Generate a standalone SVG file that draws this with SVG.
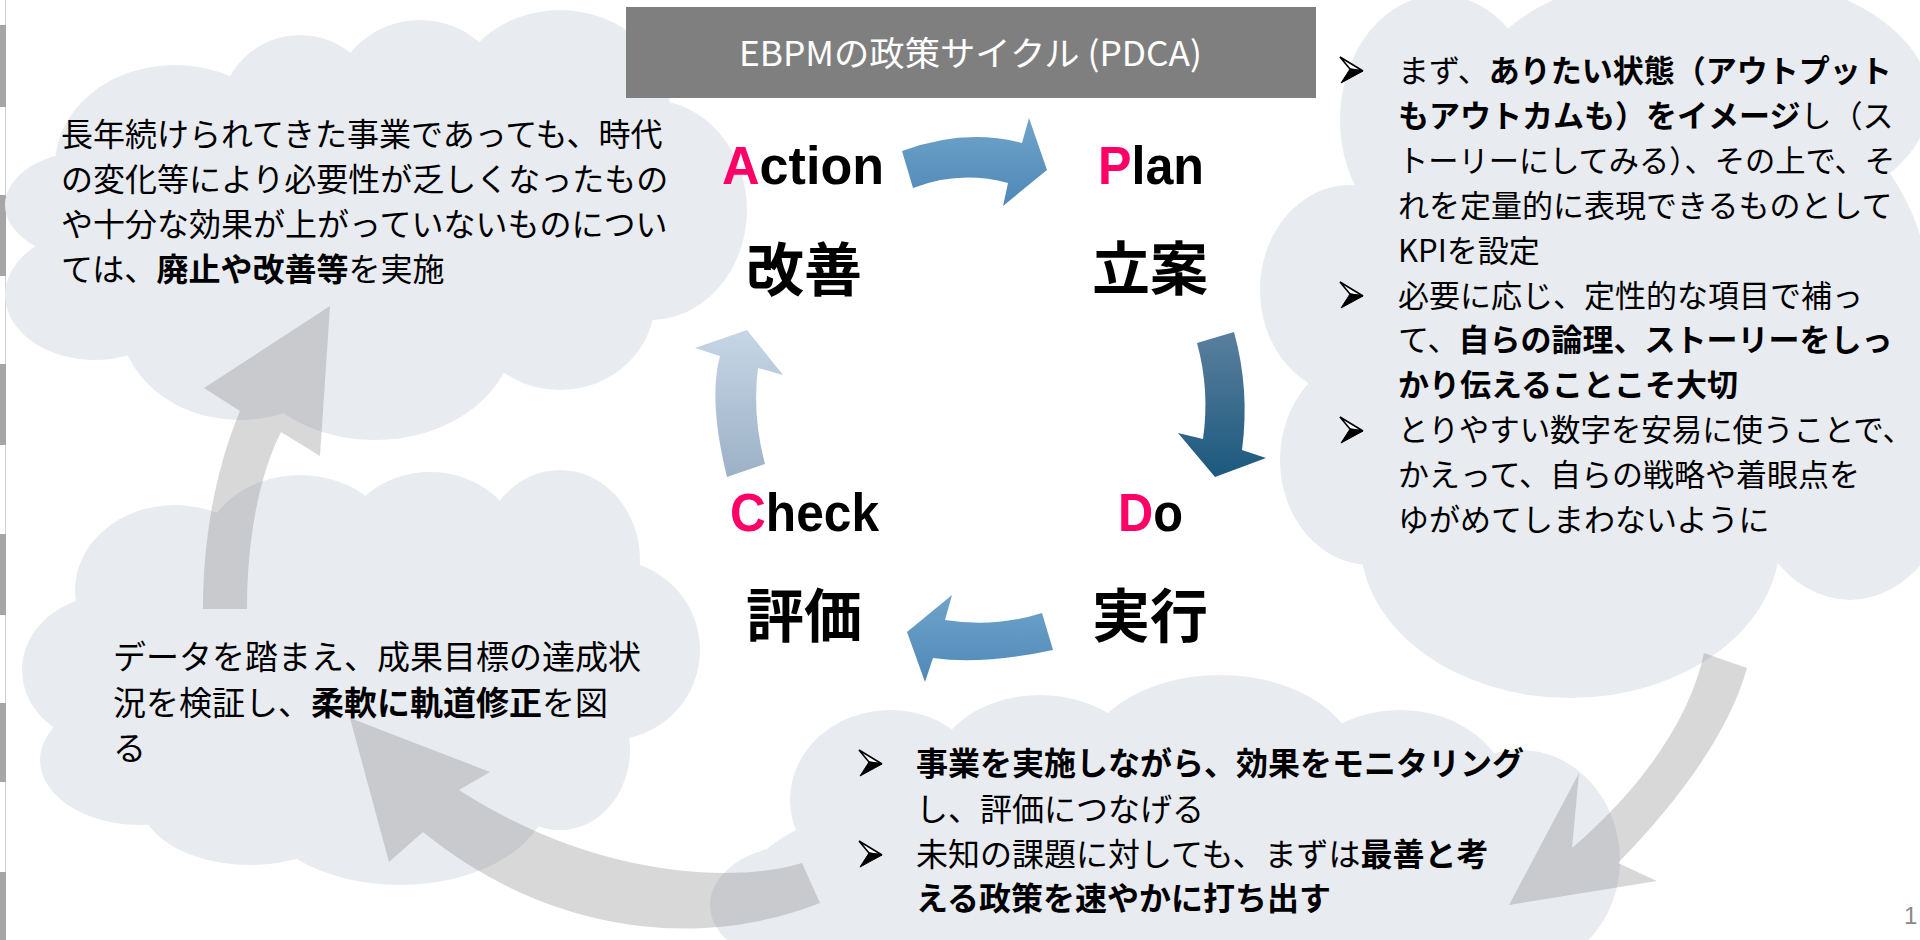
<svg xmlns="http://www.w3.org/2000/svg" width="1920" height="940" viewBox="0 0 1920 940">
<defs>
<style>
.cloud{fill:#e8ebf0}
.garrow{fill:#7f7f7f;fill-opacity:0.3}
.t{font-family:'Noto Sans CJK JP','Noto Sans CJK SC',sans-serif;fill:#000}
.b{font-weight:700}
.lat{font-family:'Liberation Sans','Noto Sans CJK JP',sans-serif;font-weight:700;font-size:53px;fill:#000}
.pk{fill:#ff0066}
.kj{font-family:'Noto Sans CJK JP',sans-serif;font-weight:700;font-size:58px;fill:#000}
</style>
<g id="bul">
<path d="M0,0 L23,14 L10,12 Z" fill="#ffffff" stroke="#000000" stroke-width="1.6" stroke-linejoin="miter"/>
<path d="M10,12 L23,14 L1,26 Z" fill="#000000" stroke="#000000" stroke-width="1"/>
</g>
<linearGradient id="gBlue" x1="0" y1="0" x2="0" y2="1"><stop offset="0" stop-color="#6fa4ca"/><stop offset="1" stop-color="#4f88b7"/></linearGradient>
<linearGradient id="gDark" x1="0" y1="0" x2="0" y2="1"><stop offset="0" stop-color="#5a7f9d"/><stop offset="1" stop-color="#1c597e"/></linearGradient>
<linearGradient id="gLight" x1="0" y1="0" x2="0" y2="1"><stop offset="0" stop-color="#c6d6e5"/><stop offset="1" stop-color="#9cb1c7"/></linearGradient>
</defs>
<rect width="1920" height="940" fill="#ffffff"/>
<g id="edge">
<rect x="5" y="0" width="1" height="940" fill="#d0d0d0"/>
<rect x="0" y="25" width="6" height="82" fill="#a6a6a6"/>
<rect x="0" y="195" width="6" height="81" fill="#a6a6a6"/>
<rect x="0" y="364" width="6" height="81" fill="#a6a6a6"/>
<rect x="0" y="534" width="6" height="81" fill="#a6a6a6"/>
<rect x="0" y="703" width="6" height="79" fill="#a6a6a6"/>
<rect x="0" y="872" width="6" height="68" fill="#a6a6a6"/>
</g>
<g id="cloud-action" class="cloud">
<ellipse cx="95" cy="295" rx="90" ry="65"/>
<ellipse cx="95" cy="205" rx="90" ry="55"/>
<ellipse cx="175" cy="165" rx="120" ry="100"/>
<ellipse cx="300" cy="115" rx="80" ry="80"/>
<ellipse cx="420" cy="110" rx="90" ry="90"/>
<ellipse cx="560" cy="110" rx="110" ry="100"/>
<ellipse cx="650" cy="210" rx="97" ry="110"/>
<ellipse cx="560" cy="300" rx="95" ry="90"/>
<ellipse cx="375" cy="330" rx="140" ry="110"/>
<ellipse cx="240" cy="320" rx="120" ry="100"/>
<ellipse cx="400" cy="220" rx="300" ry="150"/>
</g>
<g id="cloud-check" class="cloud">
<ellipse cx="110" cy="670" rx="88" ry="75"/>
<ellipse cx="140" cy="760" rx="100" ry="65"/>
<ellipse cx="175" cy="590" rx="100" ry="85"/>
<ellipse cx="300" cy="560" rx="100" ry="85"/>
<ellipse cx="430" cy="550" rx="90" ry="78"/>
<ellipse cx="560" cy="560" rx="80" ry="90"/>
<ellipse cx="610" cy="650" rx="90" ry="90"/>
<ellipse cx="560" cy="750" rx="70" ry="80"/>
<ellipse cx="400" cy="790" rx="150" ry="95"/>
<ellipse cx="250" cy="800" rx="110" ry="65"/>
<ellipse cx="370" cy="680" rx="280" ry="150"/>
</g>
<g id="cloud-plan" class="cloud">
<ellipse cx="1440" cy="120" rx="100" ry="125"/>
<ellipse cx="1700" cy="100" rx="230" ry="130"/>
<ellipse cx="1350" cy="290" rx="90" ry="105"/>
<ellipse cx="1370" cy="460" rx="90" ry="105"/>
<ellipse cx="1570" cy="540" rx="210" ry="158"/>
<ellipse cx="1850" cy="450" rx="110" ry="150"/>
<ellipse cx="1640" cy="300" rx="290" ry="250"/>
</g>
<g id="cloud-do" class="cloud">
<ellipse cx="800" cy="905" rx="90" ry="60"/>
<ellipse cx="890" cy="800" rx="100" ry="90"/>
<ellipse cx="1040" cy="780" rx="110" ry="85"/>
<ellipse cx="1220" cy="770" rx="140" ry="95"/>
<ellipse cx="1400" cy="800" rx="110" ry="90"/>
<ellipse cx="1520" cy="860" rx="100" ry="110"/>
<ellipse cx="1170" cy="880" rx="420" ry="110"/>
</g>
<g id="connectors">
<path class="garrow" d="M203,609 C203,540 215,470 240,411 L204,388 L330,306 L320,456 L281,432 C262,470 247,530 247,609 Z"/>
<path class="garrow" d="M802,863 C730,885 590,875 459,790 L490,772 L350,718 L389,862 L423,832 C550,935 700,950 820,903 Z"/>
<path class="garrow" d="M1704,653 C1690,720 1640,790 1572,848 L1579,773 L1509,905 L1657,881 L1618,863 C1680,800 1730,730 1747,668 Z"/>
<path fill="url(#gBlue)" d="M902,151 Q965,128 1022,143 L1029,118 L1047,170 L1003,206 L1008,183 Q960,170 913,188 Z"/>
<path fill="url(#gDark)" d="M1197,343 Q1210,390 1203,439 L1178,433 L1215,477 L1266,458 L1242,450 Q1250,390 1234,332 Z"/>
<path fill="url(#gBlue)" d="M1042,613 Q995,628 945,620 L952,595 L907,632 L925,682 L933,658 Q983,665 1053,650 Z"/>
<path fill="url(#gLight)" d="M727,477 Q708,400 720,356 L695,348 L747,330 L783,375 L758,368 Q752,415 765,464 Z"/>
</g>
<g id="title">
<rect x="626" y="7" width="690" height="91" fill="#7f7f7f"/>
<text x="739" y="66" class="t" font-size="34" style="fill:#ffffff" textLength="463" lengthAdjust="spacingAndGlyphs">EBPMの政策サイクル (PDCA)</text>
</g>
<g id="node-action">
<text x="722" y="184" class="lat" textLength="162" lengthAdjust="spacingAndGlyphs"><tspan class="pk">A</tspan>ction</text>
<text x="746" y="291" class="kj">改善</text>
</g>
<g id="node-plan">
<text x="1098" y="184" class="lat" textLength="106" lengthAdjust="spacingAndGlyphs"><tspan class="pk">P</tspan>lan</text>
<text x="1092" y="290" class="kj">立案</text>
</g>
<g id="node-do">
<text x="1118" y="531" class="lat" textLength="65" lengthAdjust="spacingAndGlyphs"><tspan class="pk">D</tspan>o</text>
<text x="1092" y="637" class="kj">実行</text>
</g>
<g id="node-check">
<text x="730" y="531" class="lat" textLength="149" lengthAdjust="spacingAndGlyphs"><tspan class="pk">C</tspan>heck</text>
<text x="746" y="637" class="kj">評価</text>
</g>
<g id="text-action" class="t" font-size="32">
<text x="61" y="146">長年続けられてきた事業であっても、時代</text>
<text x="61" y="191">の変化等により必要性が乏しくなったもの</text>
<text x="61" y="236">や十分な効果が上がっていないものについ</text>
<text x="61" y="281">ては、<tspan class="b">廃止や改善等</tspan>を実施</text>
</g>
<g id="text-plan" class="t" font-size="31">
<use href="#bul" x="1340" y="57"/>
<text x="1398" y="82">まず、<tspan class="b">ありたい状態（アウトプット</tspan></text>
<text x="1398" y="127"><tspan class="b">もアウトカムも）をイメージ</tspan>し（ス</text>
<text x="1398" y="172" textLength="497" lengthAdjust="spacingAndGlyphs">トーリーにしてみる）、その上で、そ</text>
<text x="1398" y="217">れを定量的に表現できるものとして</text>
<text x="1398" y="262">KPIを設定</text>
<use href="#bul" x="1340" y="282"/>
<text x="1398" y="307">必要に応じ、定性的な項目で補っ</text>
<text x="1398" y="351">て、<tspan class="b">自らの論理、ストーリーをしっ</tspan></text>
<text x="1398" y="396"><tspan class="b">かり伝えることこそ大切</tspan></text>
<use href="#bul" x="1340" y="417"/>
<text x="1398" y="441" textLength="515" lengthAdjust="spacingAndGlyphs">とりやすい数字を安易に使うことで、</text>
<text x="1398" y="486">かえって、自らの戦略や着眼点を</text>
<text x="1398" y="531">ゆがめてしまわないように</text>
</g>
<g id="text-check" class="t" font-size="33">
<text x="113" y="669">データを踏まえ、成果目標の達成状</text>
<text x="113" y="715">況を検証し、<tspan class="b">柔軟に軌道修正</tspan>を図</text>
<text x="113" y="760">る</text>
</g>
<g id="text-do" class="t" font-size="32">
<use href="#bul" x="859" y="750"/>
<text x="916" y="775"><tspan class="b">事業を実施しながら、効果をモニタリング</tspan></text>
<text x="916" y="821">し、評価につなげる</text>
<use href="#bul" x="859" y="841"/>
<text x="916" y="866">未知の課題に対しても、まずは<tspan class="b">最善と考</tspan></text>
<text x="916" y="910"><tspan class="b">える政策を速やかに打ち出す</tspan></text>
</g>
<text x="1904" y="924" font-family="'Liberation Sans',sans-serif" font-size="24" fill="#898989">1</text>
</svg>
